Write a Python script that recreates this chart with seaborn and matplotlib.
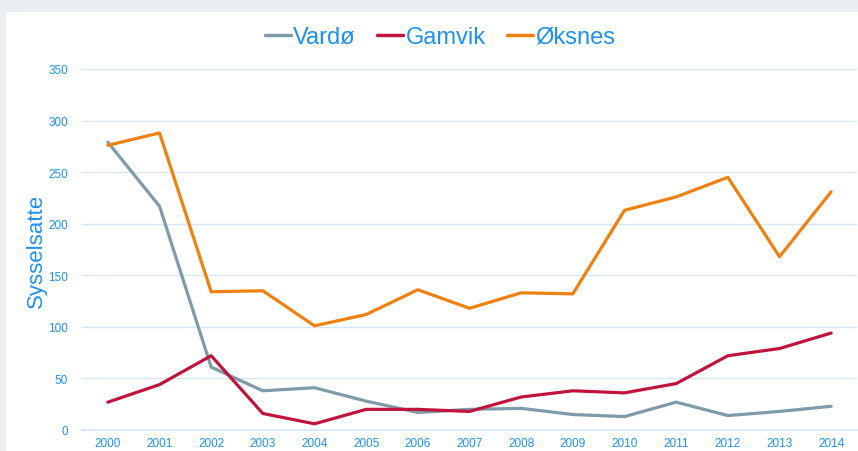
import numpy as np
import pandas as pd
import matplotlib
matplotlib.use("Agg")
import matplotlib.pyplot as plt
from matplotlib.patches import Rectangle
from matplotlib.lines import Line2D
import seaborn as sns

years = [2000, 2001, 2002, 2003, 2004, 2005, 2006, 2007, 2008, 2009, 2010, 2011, 2012, 2013, 2014]
vardo = [279, 217, 61, 38, 41, 28, 17, 20, 21, 15, 13, 27, 14, 18, 23]
gamvik = [27, 44, 72, 16, 6, 20, 20, 18, 32, 38, 36, 45, 72, 79, 94]
oksnes = [276, 288, 134, 135, 101, 112, 136, 118, 133, 132, 213, 226, 245, 168, 231]
series_names = ["Vardø", "Gamvik", "Øksnes"]
colors = ["#7F9BA9", "#C0143C", "#F0800F"]

df = pd.DataFrame({
    "year": years * 3,
    "value": vardo + gamvik + oksnes,
    "kommune": [series_names[0]] * len(years) + [series_names[1]] * len(years) + [series_names[2]] * len(years),
})

sns.set_theme(style="white")
plt.rcParams["font.family"] = ["Liberation Sans", "DejaVu Sans"]

txt = "#1E90F0"
fig = plt.figure(figsize=(8.58, 4.52), dpi=100)
fig.patch.set_facecolor("#E9EEF2")
fig.patches.append(Rectangle((6 / 858, 0), 1, 1 - 13 / 452, transform=fig.transFigure,
                             facecolor="white", edgecolor="none", zorder=-10))

ax = fig.add_axes([82 / 858, 21 / 452, 775 / 858, 361 / 452])
ax.set_facecolor("none")
sns.lineplot(data=df, x="year", y="value", hue="kommune", palette=dict(zip(series_names, colors)),
             linewidth=2.3, ax=ax, legend=False)

ax.set_xlim(1999.5, 2014.5)
ax.set_ylim(0, 350)
ax.set_xticks(years)
ax.set_xticklabels([str(y) for y in years])
ax.set_yticks(range(0, 351, 50))
ax.grid(axis="y", color="#D5E7F8", linewidth=1)
ax.set_axisbelow(True)
for s in ["top", "right", "left"]:
    ax.spines[s].set_visible(False)
ax.spines["bottom"].set_color("#D5E7F8")
ax.tick_params(axis="both", colors=txt, labelsize=8.5, length=0)
ax.tick_params(axis="x", pad=5)
ax.tick_params(axis="y", pad=10)
ax.set_xlabel("")
ax.set_ylabel("Sysselsatte", color=txt, fontsize=16, labelpad=1)

handles = [Line2D([0], [0], color=c, linewidth=2.5) for c in colors]
leg = fig.legend(handles, series_names, loc="center", bbox_to_anchor=(440 / 858, 1 - 38 / 452),
                 ncol=3, frameon=False, prop={"size": 17},
                 handlelength=1.1, handletextpad=0.1, columnspacing=0.9)
for t in leg.get_texts():
    t.set_color(txt)

fig.savefig("out.png", dpi=100)
